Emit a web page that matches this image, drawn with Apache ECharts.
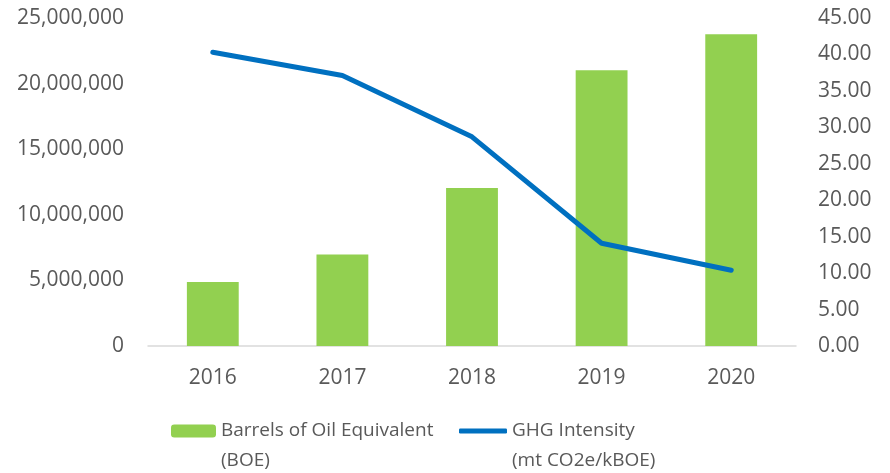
<!DOCTYPE html>
<html>
<head>
<meta charset="utf-8">
<script src="https://cdn.jsdelivr.net/npm/echarts@6/dist/echarts.min.js"></script>
<style>
  html, body { margin: 0; padding: 0; background: #fff; }
  #chart { width: 890px; height: 473px; }
</style>
</head>
<body>
<div id="chart"></div>
<script>
// 数据
const years = ['2016', '2017', '2018', '2019', '2020'];
const boe = [4880000, 6970000, 12050000, 21010000, 23760000];
const ghg = [40.3, 37.1, 28.7, 14.1, 10.4];

const BAR_NAME = 'Barrels of Oil Equivalent\n(BOE)';
const LINE_NAME = 'GHG Intensity\n(mt CO2e/kBOE)';

const FONT = '"Open Sans", "Noto Sans", sans-serif';
const GREY = '#595959';

const chart = echarts.init(document.getElementById('chart'));

// 图例文字：前面加一空行，让第一行与图标对齐
const legendText = {
    color: GREY, fontSize: 19, fontFamily: FONT, lineHeight: 30
};
const legendFmt = name => ' \n' + name;

chart.setOption({
    animation: false,
    grid: { left: 148, right: 94, top: 18, bottom: 127 },
    legend: [
        {
            data: [BAR_NAME], left: 166, top: 381,
            itemWidth: 45, itemHeight: 13, itemGap: 5,
            formatter: legendFmt,
            textStyle: legendText
        },
        {
            data: [LINE_NAME], left: 454, top: 381,
            icon: 'roundRect',
            itemWidth: 48, itemHeight: 5, itemGap: 5,
            formatter: legendFmt,
            textStyle: legendText
        }
    ],
    xAxis: {
        type: 'category',
        data: years,
        axisLine: { lineStyle: { color: '#D9D9D9', width: 1.5 } },
        axisTick: { show: false },
        axisLabel: { color: GREY, fontSize: 21, fontFamily: FONT, margin: 22 }
    },
    yAxis: [
        {
            type: 'value', min: 0, max: 25000000, interval: 5000000,
            splitLine: { show: false },
            axisLine: { show: false },
            axisTick: { show: false },
            axisLabel: {
                color: GREY, fontSize: 21, fontFamily: FONT, margin: 24,
                formatter: v => v.toLocaleString('en-US')
            }
        },
        {
            type: 'value', min: 0, max: 45, interval: 5,
            splitLine: { show: false },
            axisLine: { show: false },
            axisTick: { show: false },
            axisLabel: {
                color: GREY, fontSize: 21, fontFamily: FONT, margin: 22,
                formatter: v => v.toFixed(2)
            }
        }
    ],
    series: [
        {
            name: BAR_NAME,
            type: 'bar',
            data: boe,
            barWidth: '40%',
            itemStyle: { color: '#92D050' }
        },
        {
            name: LINE_NAME,
            type: 'line',
            yAxisIndex: 1,
            data: ghg,
            symbol: 'none',
            lineStyle: { color: '#0070C0', width: 5, cap: 'round', join: 'round' },
            itemStyle: { color: '#0070C0' }
        }
    ]
});
</script>
</body>
</html>
